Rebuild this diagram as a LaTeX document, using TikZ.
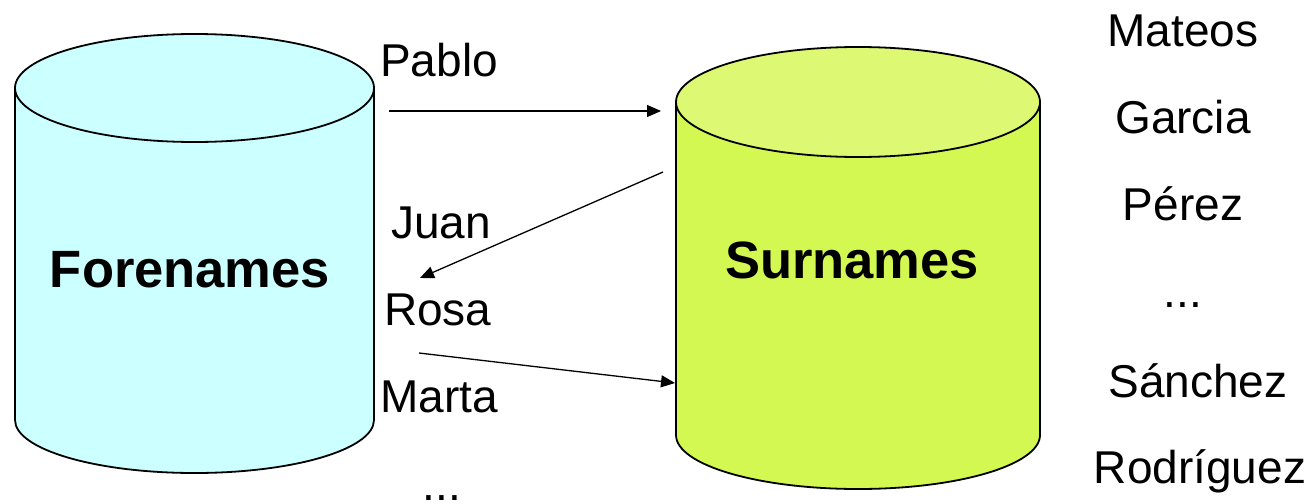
\documentclass[tikz,border=0pt]{standalone}
\usepackage{fontspec}
\setmainfont{Liberation Sans}
\usetikzlibrary{arrows.meta}
\definecolor{cyanfill}{HTML}{CCFFFF}
\definecolor{limebody}{HTML}{D4F852}
\definecolor{limetop}{HTML}{DDF872}
\begin{document}
\begin{tikzpicture}[x=1pt,y=-1pt,
  lbl/.style={font=\fontsize{46}{50}\selectfont, inner sep=0pt, anchor=base west},
  col/.style={font=\fontsize{46}{50}\selectfont, inner sep=0pt, anchor=base},
  dbtitle/.style={font=\fontsize{52.5}{56}\selectfont\bfseries, inner sep=0pt, anchor=base},
  cyl/.style={draw=black, line width=1.8pt},
  conn/.style={line width=1.3pt, -{Triangle[length=14pt,width=12pt]}}]
\useasboundingbox (0,0) rectangle (1313,503);

% Forenames cylinder
\fill[cyanfill] (15,88) -- (15,420) arc[start angle=180,end angle=360,x radius=179.5pt,y radius=53pt] -- (374,88) -- cycle;
\draw[cyl] (15,88) -- (15,420) arc[start angle=180,end angle=360,x radius=179.5pt,y radius=53pt] -- (374,88);
\filldraw[cyl, fill=cyanfill] (194.5,88) ellipse [x radius=179.5pt, y radius=54pt];

% Surnames cylinder
\fill[limebody] (676,102) -- (676,435) arc[start angle=180,end angle=360,x radius=182pt,y radius=54pt] -- (1040,102) -- cycle;
\draw[cyl] (676,102) -- (676,435) arc[start angle=180,end angle=360,x radius=182pt,y radius=54pt] -- (1040,102);
\filldraw[cyl, fill=limetop] (858,102) ellipse [x radius=182pt, y radius=55pt];

\node[dbtitle] (fore) at (190,287) {Forenames};
\node[dbtitle] (sur) at (852,278) {Surnames};

% forename labels
\node[lbl] (pablo) at (380,77) {Pablo};
\node[lbl] (juan) at (391,238) {Juan};
\node[lbl] (rosa) at (384,325) {Rosa};
\node[lbl] (marta) at (380,412) {Marta};
\node[col] (fdots) at (442,500) {...};

% surname list
\node[col] (mateos) at (1183,47) {Mateos};
\node[col] (garcia) at (1183,133) {Garcia};
\node[col] (perez) at (1183,220) {Pérez};
\node[col] (sdots) at (1183,307) {...};
\node[col] (sanchez) at (1198,397) {Sánchez};
\node[col] (rodriguez) at (1200,483) {Rodríguez};

% connectors
\coordinate (p1) at (389,111);
\coordinate (p2) at (661,111);
\coordinate (j1) at (663,172);
\coordinate (j2) at (420,278);
\coordinate (r1) at (419,353);
\coordinate (r2) at (675,383);
\draw[conn] (p1) -- (p2);
\draw[conn] (j1) -- (j2);
\draw[conn] (r1) -- (r2);
\end{tikzpicture}
\end{document}
